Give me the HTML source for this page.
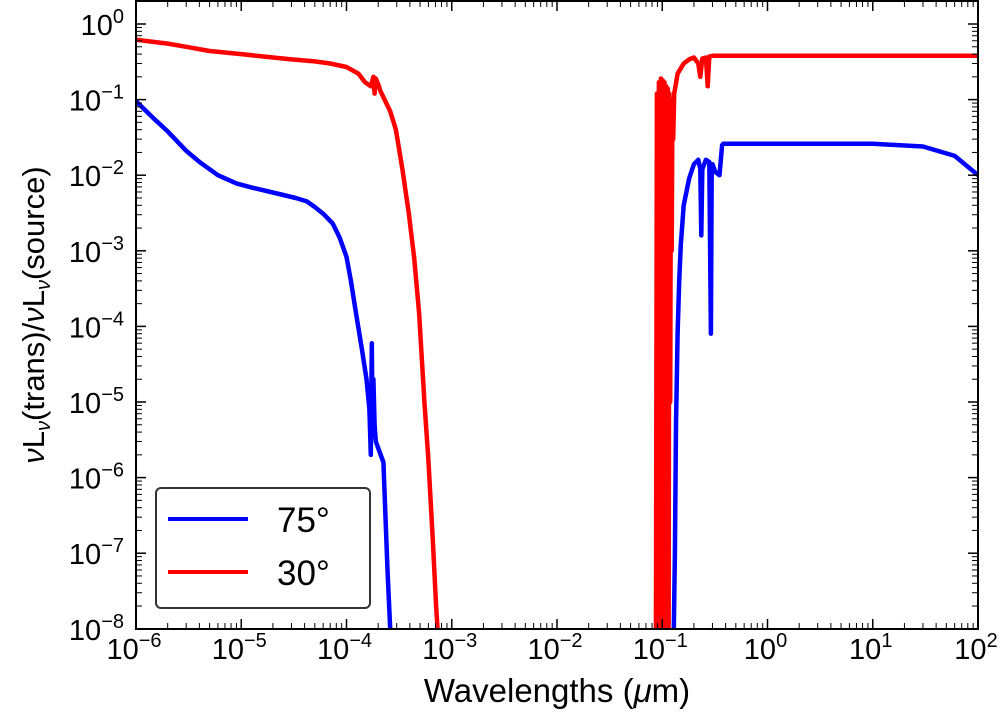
<!DOCTYPE html>
<html><head><meta charset="utf-8"><style>
html,body{margin:0;padding:0;background:#fff;width:1000px;height:717px;overflow:hidden}
svg{display:block;overflow:hidden;font-family:"Liberation Sans","DejaVu Sans",sans-serif}
</style></head><body>
<svg id="chart" width="1000" height="717" viewBox="0 0 1000 717">
<defs><clipPath id="clip"><rect x="136" y="1" width="842" height="628"/></clipPath></defs>
<g id="plot" clip-path="url(#clip)"></g>
<g id="axes"></g>
<text x="557" y="702" font-size="33" text-anchor="middle">Wavelengths (<tspan font-style="italic">μ</tspan>m)</text>
<text transform="translate(44,315) rotate(-90)" font-size="31" text-anchor="middle"><tspan font-style="italic">ν</tspan>L<tspan font-style="italic" font-size="20" dy="6">ν</tspan><tspan dy="-6">(trans)/</tspan><tspan font-style="italic">ν</tspan>L<tspan font-style="italic" font-size="20" dy="6">ν</tspan><tspan dy="-6">(source)</tspan></text>
<g>
<rect x="156" y="488" width="214" height="120" rx="5" fill="#fff" stroke="#333" stroke-width="2"/>
<line x1="168" y1="519" x2="248" y2="519" stroke="#0000ff" stroke-width="4"/>
<text x="277" y="532" font-size="35">75°</text>
<line x1="168" y1="572" x2="248" y2="572" stroke="#ff0000" stroke-width="4"/>
<text x="277" y="585" font-size="35">30°</text>
</g>
</svg>
<script>
const blueX=[1e-6,1.5e-6,2e-6,3e-6,4e-6,6e-6,9e-6,1.3e-5,2e-5,3.3e-5,4.2e-5,5e-5,6e-5,7.4e-5,8.6e-5,1e-4,1.1e-4,1.23e-4,1.4e-4,1.55e-4,1.65e-4,1.7e-4,1.74e-4,1.77e-4,1.8e-4,1.85e-4,1.9e-4,2.24e-4,2.45e-4,2.6e-4,2.8e-4,
0.128,0.132,0.135,0.14,0.145,0.15,0.16,0.18,0.2,0.22,0.23,0.235,0.24,0.26,0.28,0.29,0.295,0.3,0.32,0.35,0.37,0.38,1,3,10,30,60,100];
const blueY=[0.095,0.055,0.038,0.021,0.015,0.01,0.0078,0.0068,0.0059,0.005,0.0045,0.0038,0.0031,0.0023,0.0015,0.00083,0.0004,0.00015,0.00005,0.00002,0.000008,0.000002,0.00006,0.000004,0.00002,0.000005,0.000003,0.0000016,0.00000006,0.00000001,1e-10,
1e-10,1e-7,0.000005,0.00008,0.0004,0.0012,0.004,0.009,0.014,0.016,0.012,0.0016,0.012,0.016,0.015,0.00008,0.012,0.014,0.011,0.01,0.025,0.026,0.026,0.026,0.026,0.024,0.018,0.010];
const redX=[1e-6,2e-6,3e-6,5e-6,1e-5,2e-5,3e-5,5e-5,7e-5,1e-4,1.3e-4,1.5e-4,1.7e-4,1.8e-4,1.85e-4,1.9e-4,2e-4,2.1e-4,2.3e-4,2.6e-4,2.95e-4,3.4e-4,3.9e-4,4.4e-4,4.9e-4,5.5e-4,6e-4,6.6e-4,7.1e-4,7.4e-4,7.8e-4,
0.087,0.089,0.091,0.093,0.095,0.097,0.099,0.101,0.103,0.105,0.107,0.109,0.111,0.113,0.115,0.117,0.119,0.121,0.123,0.125,0.127,0.13,0.14,0.16,0.18,0.2,0.22,0.23,0.24,0.26,0.27,0.28,0.3,1,10,100];
const redY=[0.62,0.55,0.5,0.44,0.4,0.36,0.34,0.32,0.3,0.27,0.22,0.17,0.15,0.2,0.12,0.19,0.16,0.13,0.1,0.07,0.04,0.012,0.0032,0.0008,0.00015,0.00001,0.0000017,0.00000015,0.00000002,0.000000008,1e-10,
1e-10,0.12,1e-10,0.17,1e-10,0.19,1e-10,0.18,1e-10,0.17,1e-9,0.15,1e-10,0.14,1e-10,0.12,0.00001,0.1,0.001,0.08,0.03,0.12,0.22,0.3,0.34,0.36,0.3,0.2,0.35,0.36,0.15,0.37,0.38,0.38,0.38,0.38];
const xDecades=[-6,-5,-4,-3,-2,-1,0,1,2];
const yDecades=[0,-1,-2,-3,-4,-5,-6,-7,-8];
const L=136,R=978,B=629,PX=(R-L)/8,PY=75.6,Y0=24;
const sx=v=>L+(Math.log10(v)+6)*PX;
const sy=v=>Y0-Math.log10(Math.max(v,Math.pow(10,-8.3)))*PY;
const NS='http://www.w3.org/2000/svg';
function mk(t,a,p){const e=document.createElementNS(NS,t);for(const k in a)e.setAttribute(k,a[k]);p.appendChild(e);return e;}
const plot=document.getElementById('plot'),axes=document.getElementById('axes');
function series(xs,ys,c,name){
 const d=xs.map((x,i)=>(i?'L':'M')+sx(x).toFixed(1)+','+sy(ys[i]).toFixed(1)).join('');
 const p=mk('path',{d:d,fill:'none',stroke:c,'stroke-width':4.5,'stroke-linejoin':'round'},plot);
 
 
}
series(blueX,blueY,'#0000ff','series-75deg');
series(redX,redY,'#ff0000','series-30deg');
const fr=mk('rect',{x:L,y:1,width:R-L,height:B-1,fill:'none',stroke:'#000','stroke-width':2},axes);


xDecades.forEach(k=>{
 const x=L+(k+6)*PX;
 mk('line',{x1:x,y1:B,x2:x,y2:B-10,stroke:'#000','stroke-width':1.5},axes);
 mk('line',{x1:x,y1:1,x2:x,y2:11,stroke:'#000','stroke-width':1.5},axes);
 if(k<2)for(let m=2;m<10;m++){const xm=x+Math.log10(m)*PX;
  mk('line',{x1:xm,y1:B,x2:xm,y2:B-6,stroke:'#000','stroke-width':1},axes);
  mk('line',{x1:xm,y1:1,x2:xm,y2:7,stroke:'#000','stroke-width':1},axes);}
 const t=mk('text',{x:x-2,y:659,'font-size':29,'text-anchor':'middle'},axes);
 
 
 t.innerHTML='10<tspan dy="-12" font-size="20">'+(k<0?'−'+(-k):k)+'</tspan>';
});
yDecades.forEach(k=>{
 const y=Y0-k*PY;
 mk('line',{x1:L,y1:y,x2:L+10,y2:y,stroke:'#000','stroke-width':1.5},axes);
 mk('line',{x1:R,y1:y,x2:R-10,y2:y,stroke:'#000','stroke-width':1.5},axes);
 for(let m=2;m<10;m++){const ym=y-Math.log10(m)*PY;if(ym<1)continue;
  mk('line',{x1:L,y1:ym,x2:L+6,y2:ym,stroke:'#000','stroke-width':1},axes);
  mk('line',{x1:R,y1:ym,x2:R-6,y2:ym,stroke:'#000','stroke-width':1},axes);}
 const t=mk('text',{x:124,y:y+11,'font-size':29,'text-anchor':'end'},axes);
 
 
 t.innerHTML='10<tspan dy="-12" font-size="20">'+(k<0?'−'+(-k):k)+'</tspan>';
});
</script>
</body></html>
